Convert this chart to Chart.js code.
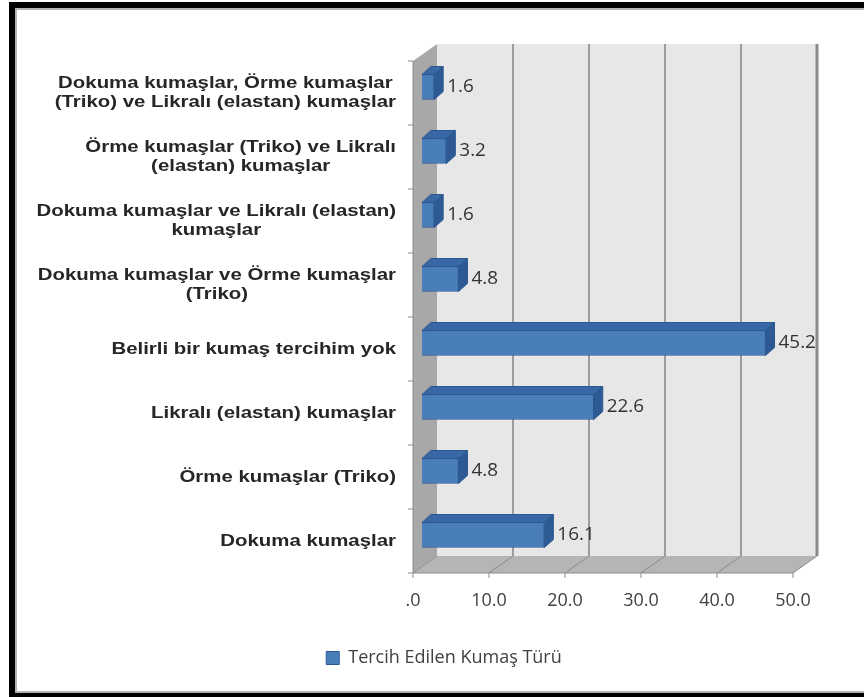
<!DOCTYPE html>
<html>
<head>
<meta charset="utf-8">
<script src="https://cdn.jsdelivr.net/npm/chart.js@4.4.1/dist/chart.umd.min.js"></script>
<style>
  html, body { margin: 0; padding: 0; background: #fff; overflow: hidden; }
  #frame { position: absolute; left: 9px; top: 2px; width: 900px; height: 697px; box-sizing: border-box; border: 6px solid #000; }
  #inner { position: absolute; left: 0; top: 0; right: 0; bottom: 0; border: 2px solid #b4b4b4; }
  #wrap { position: absolute; left: 0; top: 0; width: 864px; height: 697px; }
</style>
</head>
<body>
<div id="frame"><div id="inner"></div></div>
<div id="wrap"><canvas id="mychartCanvas" width="864" height="697"></canvas></div>
<script>
// categories, top to bottom (multi-line labels as arrays)
var categories = [
  ["Dokuma kumaşlar, Örme kumaşlar", "(Triko) ve Likralı (elastan) kumaşlar"],
  ["Örme kumaşlar (Triko) ve Likralı", "(elastan) kumaşlar"],
  ["Dokuma kumaşlar ve Likralı (elastan)", "kumaşlar"],
  ["Dokuma kumaşlar ve Örme kumaşlar", "(Triko)"],
  ["Belirli bir kumaş tercihim yok"],
  ["Likralı (elastan) kumaşlar"],
  ["Örme kumaşlar (Triko)"],
  ["Dokuma kumaşlar"]
];
var values = [1.6, 3.2, 1.6, 4.8, 45.2, 22.6, 4.8, 16.1];
var xTicks = [0, 10, 20, 30, 40, 50];
var seriesName = "Tercih Edilen Kumaş Türü";

// fake excel 3d look: front plane, back wall, bar depth
var FRONT = { dx: -9, dy: 6 };
var BACK = { dx: 15, dy: -11 };
var DEPTH = { dx: 9, dy: -8 };

function line(ctx, x1, y1, x2, y2) {
  ctx.beginPath();
  ctx.moveTo(x1, y1);
  ctx.lineTo(x2, y2);
  ctx.stroke();
}

var excel3d = {
  id: "excel3d",
  beforeDatasetsDraw: function (chart) {
    var ctx = chart.ctx, a = chart.chartArea;
    var xs = chart.scales.x, ys = chart.scales.y;
    var x0 = xs.getPixelForValue(xTicks[0]);
    var xN = xs.getPixelForValue(xTicks[xTicks.length - 1]);
    var bTop = a.top + BACK.dy, bBot = a.bottom + BACK.dy;
    var fTop = a.top + FRONT.dy, fBot = a.bottom + FRONT.dy;
    ctx.save();

    // back wall
    ctx.fillStyle = "#e7e7e7";
    ctx.fillRect(x0 + BACK.dx, bTop, xN - x0, bBot - bTop);

    // side wall
    ctx.fillStyle = "#a8a8a8";
    ctx.beginPath();
    ctx.moveTo(x0 + BACK.dx, bTop);
    ctx.lineTo(x0 + BACK.dx, bBot);
    ctx.lineTo(x0 + FRONT.dx, fBot);
    ctx.lineTo(x0 + FRONT.dx, fTop);
    ctx.closePath();
    ctx.fill();

    // floor
    ctx.fillStyle = "#b5b5b5";
    ctx.beginPath();
    ctx.moveTo(x0 + BACK.dx, bBot);
    ctx.lineTo(xN + BACK.dx, bBot);
    ctx.lineTo(xN + FRONT.dx, fBot);
    ctx.lineTo(x0 + FRONT.dx, fBot);
    ctx.closePath();
    ctx.fill();

    // grid lines
    xTicks.forEach(function (v, i) {
      var px = xs.getPixelForValue(v);
      if (i > 0) {
        ctx.strokeStyle = i == xTicks.length - 1 ? "#8a8a8a" : "#9c9c9c";
        ctx.lineWidth = i == xTicks.length - 1 ? 3 : 2;
        line(ctx, px + BACK.dx, bTop, px + BACK.dx, bBot);
      }
      ctx.strokeStyle = "#8c8c8c";
      ctx.lineWidth = 1;
      line(ctx, px + BACK.dx, bBot, px + FRONT.dx, fBot);
      line(ctx, px + FRONT.dx, fBot, px + FRONT.dx, fBot + 5);
    });
    ctx.strokeStyle = "#8c8c8c";
    ctx.lineWidth = 1;
    line(ctx, x0 + FRONT.dx, fBot, xN + FRONT.dx, fBot);
    line(ctx, x0 + FRONT.dx, fTop, x0 + FRONT.dx, fBot);

    // category tick marks
    for (var i = 0; i <= categories.length; i++) {
      var yb;
      if (i == 0) yb = a.top;
      else if (i == categories.length) yb = a.bottom;
      else yb = (ys.getPixelForValue(i - 1) + ys.getPixelForValue(i)) / 2;
      line(ctx, x0 + FRONT.dx - 5, yb + FRONT.dy, x0 + FRONT.dx, yb + FRONT.dy);
    }
    ctx.restore();
  },
  afterDatasetsDraw: function (chart) {
    var ctx = chart.ctx;
    var xs = chart.scales.x, ys = chart.scales.y;
    var meta = chart.getDatasetMeta(0);
    ctx.save();
    meta.data.forEach(function (bar, i) {
      var p = bar.getProps(["x", "y", "base", "height"], true);
      var top = p.y - p.height / 2, bottom = p.y + p.height / 2;
      var left = p.base, right = p.x;
      ctx.lineWidth = 1;
      ctx.strokeStyle = "#2c5891";
      // top face
      ctx.fillStyle = "#3968a6";
      ctx.beginPath();
      ctx.moveTo(left, top);
      ctx.lineTo(left + DEPTH.dx, top + DEPTH.dy);
      ctx.lineTo(right + DEPTH.dx, top + DEPTH.dy);
      ctx.lineTo(right, top);
      ctx.closePath();
      ctx.fill();
      ctx.stroke();
      // right face
      ctx.fillStyle = "#2d5a94";
      ctx.beginPath();
      ctx.moveTo(right, top);
      ctx.lineTo(right + DEPTH.dx, top + DEPTH.dy);
      ctx.lineTo(right + DEPTH.dx, bottom + DEPTH.dy);
      ctx.lineTo(right, bottom);
      ctx.closePath();
      ctx.fill();
      ctx.stroke();

      // value label
      ctx.save();
      ctx.translate(right + 13, p.y);
      ctx.scale(1.05, 1);
      ctx.font = '18px "Open Sans"';
      ctx.fillStyle = "#333";
      ctx.textAlign = "left";
      ctx.textBaseline = "middle";
      ctx.fillText(values[i].toFixed(1), 0, 0);
      ctx.restore();
    });

    // category labels, lines centred inside a right-aligned block
    var x0 = xs.getPixelForValue(0) + FRONT.dx;
    var sx = 1.2, lh = 19;
    ctx.font = 'bold 17px "Liberation Sans"';
    ctx.fillStyle = "#262626";
    ctx.textBaseline = "middle";
    ctx.textAlign = "center";
    categories.forEach(function (lab, i) {
      var cy = ys.getPixelForValue(i) + FRONT.dy;
      var w = 0;
      lab.forEach(function (t) { w = Math.max(w, ctx.measureText(t).width * sx); });
      var cx = x0 - 17 - w / 2;
      lab.forEach(function (t, j) {
        ctx.save();
        ctx.translate(cx, cy + (j - (lab.length - 1) / 2) * lh);
        ctx.scale(sx, 1);
        ctx.fillText(t, 0, 0);
        ctx.restore();
      });
    });
    ctx.restore();
  }
};

var ctx = document.getElementById("mychartCanvas");

var data = {
  labels : categories,
  datasets : [
    {
      label : seriesName,
      data : values,
      backgroundColor : "#4a7ebb",
      borderColor : "#2c5891",
      borderWidth : 1,
      barThickness : 25
    }
  ]
};

var options = {
  indexAxis : "y",
  responsive : false,
  animation : false,
  layout : { padding : { left : 24, right : 0, top : 55, bottom : 20 } },
  scales : {
    x : {
      min : 0,
      max : 50,
      afterBuildTicks : function (s) { s.ticks = xTicks.map(function (v) { return { value : v }; }); },
      afterFit : function (s) { s.height = 72; },
      grid : { display : false, drawTicks : false },
      border : { display : false },
      ticks : {
        padding : 23,
        labelOffset : -9,
        color : "#404040",
        font : { family : "Open Sans", size : 18 },
        callback : function (v) { return v === 0 ? ".0" : v.toFixed(1); }
      }
    },
    y : {
      grid : { display : false, drawTicks : false },
      border : { display : false },
      ticks : { display : false },
      afterFit : function (s) { s.width = 398; }
    },
    yR : {
      type : "linear",
      position : "right",
      grid : { display : false, drawTicks : false },
      border : { display : false },
      ticks : { display : false },
      afterFit : function (s) { s.width = 62; }
    }
  },
  plugins : {
    legend : {
      display : true,
      position : "bottom",
      labels : {
        boxWidth : 13,
        boxHeight : 13,
        padding : 10,
        color : "#404040",
        font : { family : "Open Sans", size : 18 }
      }
    },
    tooltip : { enabled : false }
  }
};

var chart = new Chart(ctx, {
  type : "bar",
  data : data,
  options : options,
  plugins : [excel3d]
});
</script>
</body>
</html>
